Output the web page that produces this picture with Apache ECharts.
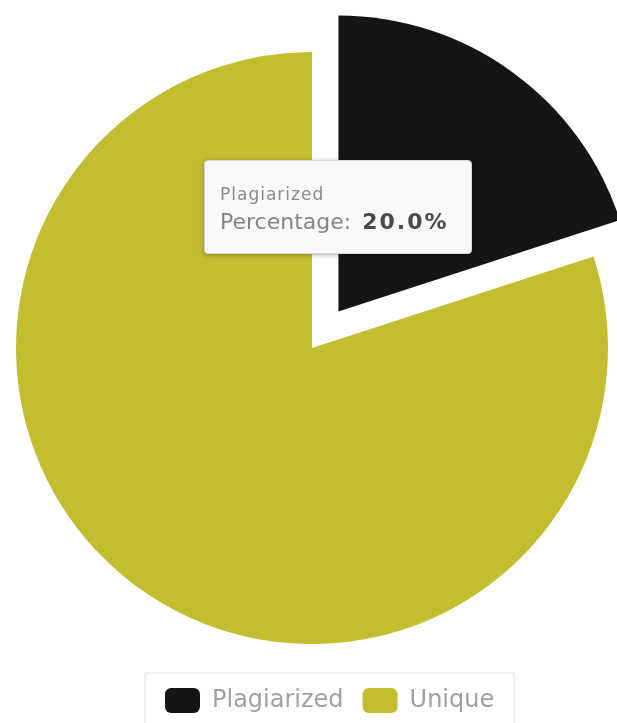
<!DOCTYPE html>
<html>
<head>
<meta charset="utf-8">
<script src="https://cdn.jsdelivr.net/npm/echarts@6/dist/echarts.min.js"></script>
<style>
  html, body { margin: 0; padding: 0; background: #fff; }
  #myPie { width: 617px; height: 723px; }
</style>
</head>
<body>
<div id="myPie"></div>
<script>
var categories = ['Plagiarized', 'Unique'];
var percentages = [20.0, 80.0];
var colors = ['#151515', '#c3bd30'];

var dom = document.getElementById("myPie");
var myChart = echarts.init(dom);
var option = null;

var pieData = categories.map(function (name, i) {
    return {
        name: name,
        value: percentages[i],
        selected: i === 0,
        itemStyle: { color: colors[i] }
    };
});

option = {
    animation: false,
    textStyle: {
        fontFamily: 'DejaVu Sans'
    },
    tooltip: {
        trigger: 'item',
        triggerOn: 'none',
        alwaysShowContent: true,
        transitionDuration: 0,
        backgroundColor: '#f9f9fb',
        borderColor: '#d8d8d8',
        borderWidth: 1,
        padding: [20, 15, 16, 15],
        extraCssText: 'border-radius:4px;box-shadow:0 1px 4px rgba(0,0,0,0.3);width:236px;',
        position: function () {
            return [204, 160];
        },
        formatter: function (p) {
            return '<div style="font-family:DejaVu Sans;font-size:17px;color:#8a8a8a;line-height:26px;letter-spacing:1px">' + p.name + '</div>' +
                '<div style="font-family:DejaVu Sans;font-size:22px;color:#858585;line-height:30px">Percentage: ' +
                '<b style="font-size:22px;color:#4a4a4a;letter-spacing:2px;margin-left:4px">' + p.value.toFixed(1) + '%</b></div>';
        }
    },
    legend: {
        data: categories,
        left: 145,
        top: 673,
        itemWidth: 35,
        itemHeight: 25,
        itemGap: 19,
        padding: [15, 20, 15, 20],
        borderColor: '#e2e2e2',
        borderWidth: 1,
        icon: 'roundRect',
        selectedMode: false,
        textStyle: {
            fontSize: 24,
            color: '#a0a0a0',
            padding: [0, 0, 0, 7]
        }
    },
    series: [{
        name: 'Percentage',
        type: 'pie',
        center: [312, 348],
        radius: 296,
        startAngle: 90,
        selectedMode: 'single',
        selectedOffset: 45,
        label: { show: false },
        labelLine: { show: false },
        emphasis: { disabled: true },
        data: pieData
    }]
};

myChart.setOption(option, true);
myChart.dispatchAction({ type: 'showTip', seriesIndex: 0, dataIndex: 0 });
</script>
</body>
</html>
